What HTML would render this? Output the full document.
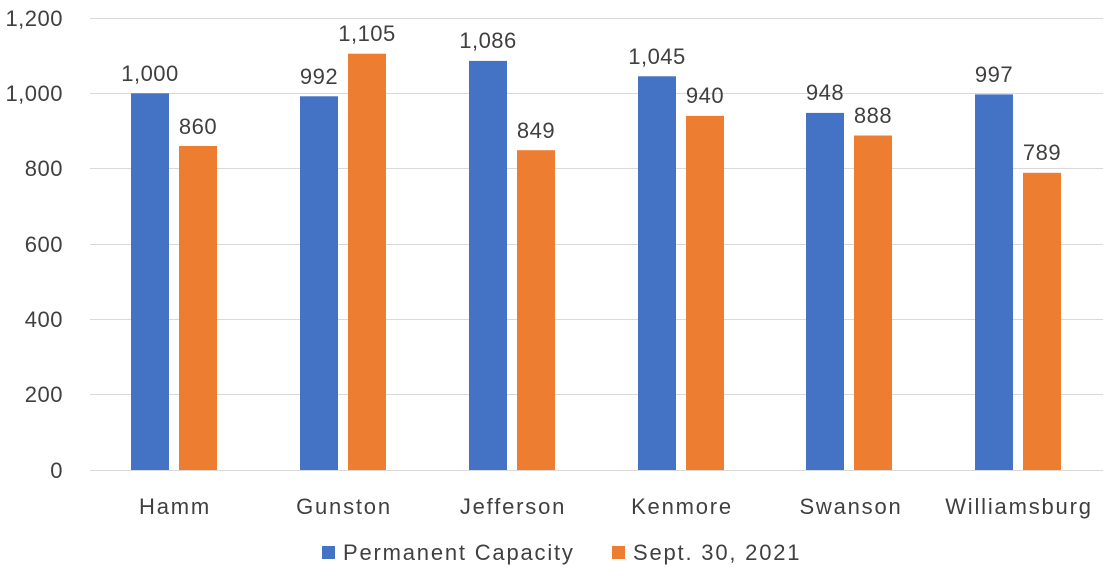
<!DOCTYPE html>
<html><head><style>
body{margin:0;background:#fff;}
text{font-family:"Liberation Sans",sans-serif;fill:#404040;}
.w{letter-spacing:1.8px;}
.n{letter-spacing:0.5px;}
</style></head><body>
<svg width="1108" height="575" xmlns="http://www.w3.org/2000/svg">
<g stroke="#d9d9d9" stroke-width="1">
<line x1="90" x2="1103" y1="18.5" y2="18.5"/>
<line x1="90" x2="1103" y1="93.5" y2="93.5"/>
<line x1="90" x2="1103" y1="168.5" y2="168.5"/>
<line x1="90" x2="1103" y1="244.5" y2="244.5"/>
<line x1="90" x2="1103" y1="319.5" y2="319.5"/>
<line x1="90" x2="1103" y1="394.5" y2="394.5"/>
<line x1="90" x2="1103" y1="470.5" y2="470.5"/>
</g>
<g font-size="22" text-anchor="end" class="n">
<text x="63" y="26">1,200</text>
<text x="63" y="101">1,000</text>
<text x="63" y="176">800</text>
<text x="63" y="252">600</text>
<text x="63" y="327">400</text>
<text x="63" y="402">200</text>
<text x="63" y="478">0</text>
</g>
<g font-size="22" text-anchor="middle">
<rect x="131" y="93.3" width="38" height="376.7" fill="#4472c4"/>
<rect x="179" y="146" width="38" height="324" fill="#ed7d31"/>
<text class="n" x="150" y="81">1,000</text><text class="n" x="198" y="134">860</text>
<text class="w" x="175" y="514">Hamm</text>
<rect x="300" y="96.3" width="38" height="373.7" fill="#4472c4"/>
<rect x="348" y="53.7" width="38" height="416.3" fill="#ed7d31"/>
<text class="n" x="319" y="84">992</text><text class="n" x="367" y="41">1,105</text>
<text class="w" x="344" y="514">Gunston</text>
<rect x="469" y="60.9" width="38" height="409.1" fill="#4472c4"/>
<rect x="517" y="150.2" width="38" height="319.8" fill="#ed7d31"/>
<text class="n" x="488" y="48">1,086</text><text class="n" x="536" y="138">849</text>
<text class="w" x="513" y="514">Jefferson</text>
<rect x="638" y="76.3" width="38" height="393.7" fill="#4472c4"/>
<rect x="686" y="115.9" width="38" height="354.1" fill="#ed7d31"/>
<text class="n" x="657" y="64">1,045</text><text class="n" x="705" y="103">940</text>
<text class="w" x="682" y="514">Kenmore</text>
<rect x="806" y="112.9" width="38" height="357.1" fill="#4472c4"/>
<rect x="854" y="135.5" width="38" height="334.5" fill="#ed7d31"/>
<text class="n" x="825" y="100">948</text><text class="n" x="873" y="123">888</text>
<text class="w" x="851" y="514">Swanson</text>
<rect x="975" y="94.4" width="38" height="375.6" fill="#4472c4"/>
<rect x="1023" y="172.8" width="38" height="297.2" fill="#ed7d31"/>
<text class="n" x="994" y="82">997</text><text class="n" x="1042" y="160">789</text>
<text class="w" x="1019" y="514">Williamsburg</text>
</g>
<rect x="322" y="546" width="13" height="13" fill="#4472c4"/>
<text class="w" x="343" y="560" font-size="22">Permanent Capacity</text>
<rect x="612" y="546" width="13" height="13" fill="#ed7d31"/>
<text class="w" x="633" y="560" font-size="22">Sept. 30, 2021</text>
</svg>
</body></html>
